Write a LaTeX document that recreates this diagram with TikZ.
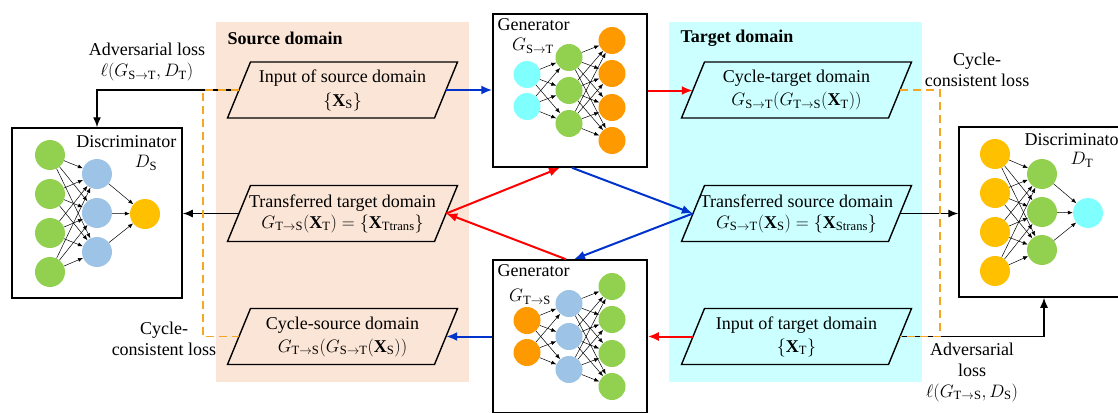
\documentclass[tikz,border=0pt]{standalone}
\usepackage{fix-cm}
\usepackage{amsmath,amssymb}
\usepackage{fontspec}
\setmainfont{Liberation Serif}
\usetikzlibrary{arrows.meta}

\definecolor{srcbg}{RGB}{251,229,214}
\definecolor{tgtbg}{RGB}{204,255,255}
\definecolor{nngreen}{RGB}{146,208,80}
\definecolor{nnblue}{RGB}{157,195,230}
\definecolor{nnorange}{RGB}{255,153,0}
\definecolor{nnyellow}{RGB}{255,192,0}
\definecolor{nncyan}{RGB}{128,255,255}
\definecolor{arrred}{RGB}{255,0,0}
\definecolor{arrblue}{RGB}{0,51,204}
\definecolor{lossorange}{RGB}{245,166,35}

% parallelogram for a data domain: name, centre x, centre y, fill, text
\newcommand{\domainbox}[5]{%
  \draw[line width=1.4pt, fill=#4] (#2-92,#3-28) -- (#2+115,#3-28)
    -- (#2+92,#3+28) -- (#2-115,#3+28) -- cycle;
  \node[domtext] (#1) at (#2,#3) {#5};}

\begin{document}
\begin{tikzpicture}[x=1pt,y=-1pt,font=\fontsize{18}{21}\selectfont,
    domtext/.style={minimum width=207pt,minimum height=56pt,inner sep=0pt,align=center},
    netbox/.style={draw,line width=1.5pt,minimum width=154pt,minimum height=153pt,inner sep=0pt},
    discbox/.style={draw,line width=1.5pt,minimum width=170pt,minimum height=170pt,inner sep=0pt},
    gneuron/.style={circle,minimum size=27pt,inner sep=0pt},
    dneuron/.style={circle,minimum size=30pt,inner sep=0pt},
    nn/.style={line width=0.5pt,-{Latex[length=5pt,width=4pt]}},
    redarr/.style={draw=arrred,line width=2pt,-{Latex[length=11pt,width=9pt]}},
    bluearr/.style={draw=arrblue,line width=2pt,-{Latex[length=11pt,width=9pt]}},
    blackarr/.style={line width=1.4pt,-{Latex[length=10pt,width=8pt]}},
    cycloss/.style={draw=lossorange,line width=1.5pt,dash pattern=on 8pt off 5pt}]
  \useasboundingbox (0,0) rectangle (1118,412);

  % Domain backgrounds
  \fill[srcbg] (216,22) rectangle (469,382);
  \fill[tgtbg] (669,22) rectangle (922,382);
  \node[anchor=west,font=\fontsize{18}{21}\selectfont\bfseries] (srctitle) at (224,38) {Source domain};
  \node[anchor=west,font=\fontsize{18}{21}\selectfont\bfseries] (tgttitle) at (677,38) {Target domain};

  % Source domain data
  \domainbox{srcIn}{342.5}{90}{srcbg}{Input of source domain\\[3pt] $\{\mathbf{X}_{\mathrm{S}}\}$}
  \domainbox{tranT}{342.5}{213.5}{srcbg}{Transferred target domain\\ $G_{\mathrm{T}\to\mathrm{S}}(\mathbf{X}_{\mathrm{T}})=\{\mathbf{X}_{\mathrm{Ttrans}}\}$}
  \domainbox{cycS}{342.5}{336.5}{srcbg}{Cycle-source domain\\[2pt] $G_{\mathrm{T}\to\mathrm{S}}(G_{\mathrm{S}\to\mathrm{T}}(\mathbf{X}_{\mathrm{S}}))$}

  % Target domain data
  \domainbox{cycT}{796.5}{90}{tgtbg}{Cycle-target domain\\[2pt] $G_{\mathrm{S}\to\mathrm{T}}(G_{\mathrm{T}\to\mathrm{S}}(\mathbf{X}_{\mathrm{T}}))$}
  \domainbox{tranS}{796.5}{213.5}{tgtbg}{Transferred source domain\\ $G_{\mathrm{S}\to\mathrm{T}}(\mathbf{X}_{\mathrm{S}})=\{\mathbf{X}_{\mathrm{Strans}}\}$}
  \domainbox{inT}{796.5}{336.5}{tgtbg}{Input of target domain\\[2pt] $\{\mathbf{X}_{\mathrm{T}}\}$}

  % Generator G_{S->T}
  \node[netbox,fill=white] (genST) at (570,90.5) {};
  \node[anchor=west] (genSTlab) at (494,25) {Generator};
  \node (genSTsym) at (533,46) {$G_{\mathrm{S}\to\mathrm{T}}$};
  \begin{scope}[shift={(570,90.5)}]
    \foreach \n/\y in {1/-16,2/16} \node[gneuron,fill=nncyan] (ga\n) at (-43,\y) {};
    \foreach \n/\y in {1/-33,2/0,3/33} \node[gneuron,fill=nngreen] (gb\n) at (-1,\y) {};
    \foreach \n/\y in {1/-50,2/-17,3/17,4/50} \node[gneuron,fill=nnorange] (gc\n) at (42,\y) {};
  \end{scope}
  \foreach \i in {1,2} \foreach \j in {1,2,3} \draw[nn] (ga\i) -- (gb\j);
  \foreach \i in {1,2,3} \foreach \j in {1,...,4} \draw[nn] (gb\i) -- (gc\j);

  % Generator G_{T->S}
  \node[netbox,fill=white] (genTS) at (570,336.5) {};
  \node[anchor=west] (genTSlab) at (494,271) {Generator};
  \node (genTSsym) at (530,297) {$G_{\mathrm{T}\to\mathrm{S}}$};
  \begin{scope}[shift={(570,336.5)}]
    \foreach \n/\y in {1/-16,2/16} \node[gneuron,fill=nnorange] (ha\n) at (-43,\y) {};
    \foreach \n/\y in {1/-33,2/0,3/33} \node[gneuron,fill=nnblue] (hb\n) at (-1,\y) {};
    \foreach \n/\y in {1/-50,2/-17,3/17,4/50} \node[gneuron,fill=nngreen] (hc\n) at (42,\y) {};
  \end{scope}
  \foreach \i in {1,2} \foreach \j in {1,2,3} \draw[nn] (ha\i) -- (hb\j);
  \foreach \i in {1,2,3} \foreach \j in {1,...,4} \draw[nn] (hb\i) -- (hc\j);

  % Discriminator D_S
  \node[discbox] (discS) at (97,213) {};
  \node[anchor=east] (discSlab) at (180,142) {Discriminator};
  \node (discSsym) at (146,163) {$D_{\mathrm{S}}$};
  \begin{scope}[shift={(97,213)}]
    \foreach \n/\y in {1/-58,2/-19,3/20,4/59} \node[dneuron,fill=nngreen] (da\n) at (-47,\y) {};
    \foreach \n/\y in {1/-39,2/0,3/39} \node[dneuron,fill=nnblue] (db\n) at (0,\y) {};
    \node[dneuron,fill=nnyellow] (dc) at (48,1) {};
  \end{scope}
  \foreach \i in {1,...,4} \foreach \j in {1,2,3} \draw[nn] (da\i) -- (db\j);
  \foreach \i in {1,2,3} \draw[nn] (db\i) -- (dc);

  % Discriminator D_T
  \node[discbox] (discT) at (1044,212) {};
  \node[anchor=west] (discTlab) at (1021,140) {Discriminator};
  \node (discTsym) at (1082,160) {$D_{\mathrm{T}}$};
  \begin{scope}[shift={(1044,212)}]
    \foreach \n/\y in {1/-58,2/-19,3/20,4/59} \node[dneuron,fill=nnyellow] (ea\n) at (-49,\y) {};
    \foreach \n/\y in {1/-38,2/0,3/38} \node[dneuron,fill=nngreen] (eb\n) at (-2,\y) {};
    \node[dneuron,fill=nncyan] (ec) at (44,1) {};
  \end{scope}
  \foreach \i in {1,...,4} \foreach \j in {1,2,3} \draw[nn] (ea\i) -- (eb\j);
  \foreach \i in {1,2,3} \draw[nn] (eb\i) -- (ec);

  % Generator flows
  \draw[bluearr] (srcIn.east) -- (srcIn.east -| genST.west);
  \draw[redarr] (genST.east) -- (genST.east -| cycT.west);
  \draw[redarr] (inT.west) -- (inT.west -| genTS.east);
  \draw[bluearr] (genTS.west) -- (genTS.west -| cycS.east);
  \draw[redarr] ([xshift=-4pt]genTS.north) -- (tranT.east);
  \draw[redarr] (tranT.east) -- ([xshift=-10pt]genST.south);
  \draw[bluearr] ([xshift=2pt]genST.south) -- (tranS.west);
  \draw[bluearr] (tranS.west) -- ([xshift=4pt]genTS.north);

  % Discriminator inputs
  \draw[blackarr] (tranT.west) -- (tranT.west -| discS.east);
  \draw[blackarr] (tranS.east) -- (tranS.east -| discT.west);
  \draw[blackarr] (srcIn.west) -| (discS.north);
  \draw[blackarr] (inT.east) -| (discT.south);

  % Cycle-consistent losses
  \draw[cycloss] (srcIn.west) -| ([xshift=-36pt]cycS.west) -- (cycS.west);
  \draw[cycloss] (cycT.east) -| ([xshift=40pt]inT.east) -- (inT.east);

  % Loss labels
  \node[align=center] (advST) at (147,62) {Adversarial loss\\ $\ell(G_{\mathrm{S}\to\mathrm{T}},D_{\mathrm{T}})$};
  \node[align=center] (cycSlab) at (164,339) {Cycle-\\consistent loss};
  \node[align=center] (cycTlab) at (977,70) {Cycle-\\consistent loss};
  \node[align=center] (advTS) at (972,372) {Adversarial\\loss\\ $\ell(G_{\mathrm{T}\to\mathrm{S}},D_{\mathrm{S}})$};
\end{tikzpicture}
\end{document}
